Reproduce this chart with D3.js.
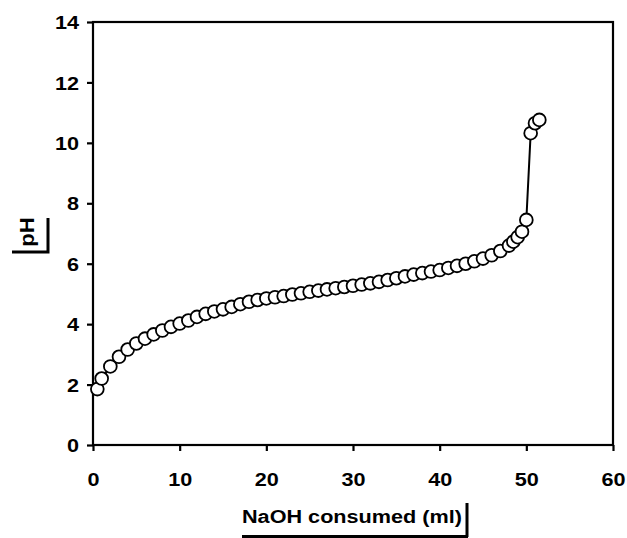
<!DOCTYPE html>
<html>
<head>
<meta charset="utf-8">
<script src="https://cdn.jsdelivr.net/npm/d3@7"></script>
<style>
    body { margin: 0; background: #fff; }
    svg { display: block; }
    text { font-family: Arial, "Liberation Sans", sans-serif; font-weight: bold; fill: #000; }
</style>
</head>
<body>
<svg id="chart" width="627" height="538"></svg>
<script>
// titration data
var naoh_ml = [0.5, 1, 2, 3, 4, 5, 6, 7, 8, 9, 10, 11, 12, 13, 14, 15, 16, 17, 18, 19,
    20, 21, 22, 23, 24, 25, 26, 27, 28, 29, 30, 31, 32, 33, 34, 35, 36, 37, 38, 39,
    40, 41, 42, 43, 44, 45, 46, 47, 48, 48.5, 49, 49.5, 50, 50.5, 51, 51.5];
var ph_values = [1.85, 2.2, 2.6, 2.92, 3.16, 3.36, 3.52, 3.66, 3.79, 3.91, 4.02, 4.12, 4.24, 4.34,
    4.42, 4.49, 4.57, 4.66, 4.74, 4.80, 4.85, 4.89, 4.93, 4.98, 5.02, 5.07, 5.11, 5.15,
    5.19, 5.23, 5.27, 5.31, 5.35, 5.40, 5.46, 5.52, 5.58, 5.64, 5.69, 5.74, 5.79, 5.86,
    5.93, 6.00, 6.08, 6.17, 6.28, 6.42, 6.60, 6.73, 6.88, 7.06, 7.45, 10.32, 10.65, 10.76];
var x_ticks = [0, 10, 20, 30, 40, 50, 60];
var y_ticks = [0, 2, 4, 6, 8, 10, 12, 14];
var x_title = 'NaOH consumed (ml)';
var y_title = 'pH';

var svg = d3.select('#chart');
var area = {left: 93, right: 613, top: 22, bottom: 445};
var stretch = 1.17;

var x = d3.scaleLinear().domain([0, 60]).range([area.left, area.right]);
var y = d3.scaleLinear().domain([0, 14]).range([area.bottom, area.top]);

var points = naoh_ml.map(function (d, i) { return {x: d, y: ph_values[i]}; });

// frame
svg.append('rect')
    .attr('x', area.left).attr('y', area.top)
    .attr('width', area.right - area.left).attr('height', area.bottom - area.top)
    .attr('fill', 'none').attr('stroke', '#000').attr('stroke-width', 2.2);

// axes
var xaxis = svg.append('g')
    .attr('transform', 'translate(0,' + area.bottom + ')')
    .call(d3.axisBottom(x).tickValues(x_ticks).tickSizeOuter(0).tickSize(6));
xaxis.select('.domain').remove();
xaxis.selectAll('line').attr('stroke-width', 2.2);
xaxis.selectAll('text')
    .attr('y', 0).attr('dy', 0)
    .attr('font-size', 18.5)
    .attr('transform', 'translate(0,41) scale(' + stretch + ',1)');

var yaxis = svg.append('g')
    .attr('transform', 'translate(' + area.left + ',0)')
    .call(d3.axisLeft(y).tickValues(y_ticks).tickSizeOuter(0).tickSize(6));
yaxis.select('.domain').remove();
yaxis.selectAll('line').attr('stroke-width', 2.2);
yaxis.selectAll('text')
    .attr('x', -14 / stretch).attr('dy', '0.36em')
    .attr('font-size', 18.5)
    .attr('transform', 'scale(' + stretch + ',1)');
svg.selectAll('.tick text').attr('font-family', null).attr('fill', '#000');

// line then markers
var line = d3.line()
    .x(function (d) { return x(d.x); })
    .y(function (d) { return y(d.y); });

svg.append('path')
    .datum(points)
    .attr('d', line)
    .attr('fill', 'none')
    .attr('stroke', '#000')
    .attr('stroke-width', 2);

svg.selectAll('.pt')
    .data(points)
  .enter()
    .append('circle')
    .attr('class', 'pt')
    .attr('cx', function (d) { return x(d.x); })
    .attr('cy', function (d) { return y(d.y); })
    .attr('r', 6.4)
    .attr('fill', '#fff')
    .attr('stroke', '#000')
    .attr('stroke-width', 1.8);

// axis titles with their little bracket lines
svg.append('text')
    .attr('transform', 'translate(242,523) scale(' + stretch + ',1)')
    .attr('font-size', 18.5)
    .text(x_title);
svg.append('path')
    .attr('d', 'M242,536.5H468M467,503V537')
    .attr('fill', 'none').attr('stroke', '#000').attr('stroke-width', 3);

svg.append('text')
    .attr('transform', 'translate(34,232) rotate(-90) scale(1.1,1)')
    .attr('text-anchor', 'middle')
    .attr('font-size', 20)
    .text(y_title);
svg.append('path')
    .attr('d', 'M48,218V253M12,252H49.5')
    .attr('fill', 'none').attr('stroke', '#000').attr('stroke-width', 3);
</script>
</body>
</html>
